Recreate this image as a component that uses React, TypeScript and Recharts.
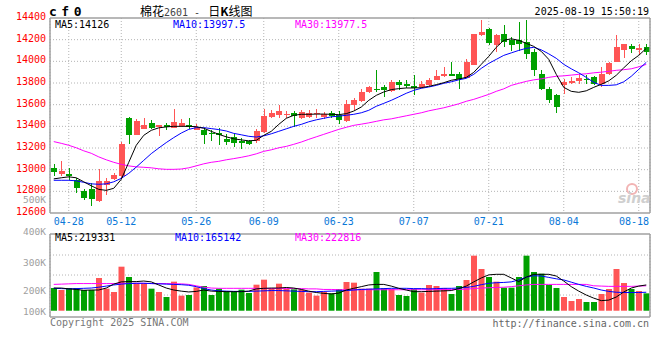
import React from 'react'
import { ComposedChart, Bar, Line, XAxis, YAxis, CartesianGrid, Cell } from 'recharts'

// trading days shown on the chart
const DATES = [
  '04-24', '04-25', '04-28', '04-29', '04-30', '05-06', '05-07', '05-08', '05-09', '05-12',
  '05-13', '05-14', '05-15', '05-16', '05-19', '05-20', '05-21', '05-22', '05-23', '05-26',
  '05-27', '05-28', '05-29', '05-30', '06-03', '06-04', '06-05', '06-06', '06-09', '06-10',
  '06-11', '06-12', '06-13', '06-16', '06-17', '06-18', '06-19', '06-20', '06-23', '06-24',
  '06-25', '06-26', '06-27', '06-30', '07-01', '07-02', '07-03', '07-04', '07-07', '07-08',
  '07-09', '07-10', '07-11', '07-14', '07-15', '07-16', '07-17', '07-18', '07-21', '07-22',
  '07-23', '07-24', '07-25', '07-28', '07-29', '07-30', '07-31', '08-01', '08-04', '08-05',
  '08-06', '08-07', '08-08', '08-11', '08-12', '08-13', '08-14', '08-15', '08-18', '08-19',
]

const OPEN = [
  13019, 12960, 12960, 12901, 12800, 12825, 12708, 12862, 12914, 12940,
  13474, 13320, 13379, 13434, 13397, 13412, 13388, 13403, 13409, 13370,
  13370, 13338, 13338, 13283, 13301, 13262, 13262, 13262, 13347, 13486,
  13502, 13511, 13523, 13477, 13486, 13511, 13486, 13523, 13508, 13449,
  13594, 13634, 13717, 13748, 13763, 13726, 13809, 13788, 13772, 13763,
  13778, 13831, 13862, 13886, 13886, 13850, 13970, 14240, 14295, 14148,
  14249, 14194, 14200, 14175, 14083, 13880, 13748, 13686, 13778, 13803,
  13815, 13840, 13855, 13794, 13880, 13994, 14101, 14141, 14108, 14132,
]
const HIGH = [
  13049, 13077, 13019, 12926, 12821, 12877, 13010, 12926, 12966, 13255,
  13483, 13467, 13474, 13455, 13416, 13430, 13563, 13471, 13474, 13425,
  13382, 13370, 13384, 13326, 13333, 13296, 13277, 13379, 13557, 13554,
  13594, 13541, 13541, 13548, 13554, 13563, 13529, 13541, 13541, 13646,
  13665, 13741, 13772, 13917, 13778, 13825, 13825, 13825, 13871, 13815,
  13846, 13923, 13948, 13994, 13901, 14025, 14255, 14378, 14310, 14255,
  14332, 14224, 14360, 14378, 14117, 13917, 13763, 13695, 13840, 13855,
  13880, 13871, 13862, 13948, 13994, 14240, 14163, 14157, 14157, 14163,
]
const LOW = [
  12939, 12938, 12908, 12784, 12723, 12664, 12699, 12770, 12902, 12917,
  13237, 13317, 13379, 13379, 13310, 13370, 13382, 13395, 13375, 13363,
  13240, 13264, 13225, 13231, 13212, 13194, 13225, 13250, 13335, 13480,
  13480, 13480, 13394, 13470, 13480, 13480, 13468, 13477, 13425, 13440,
  13548, 13625, 13710, 13717, 13670, 13720, 13732, 13754, 13686, 13755,
  13770, 13825, 13855, 13862, 13748, 13845, 13965, 14230, 14147, 14086,
  14132, 14092, 14092, 14025, 13864, 13732, 13615, 13523, 13695, 13788,
  13794, 13794, 13785, 13763, 13870, 13990, 14030, 14080, 14055, 14055,
]
const CLOSE = [
  12978, 12985, 12938, 12830, 12738, 12726, 12892, 12892, 12951, 13234,
  13320, 13446, 13412, 13388, 13409, 13394, 13437, 13428, 13397, 13397,
  13323, 13326, 13320, 13255, 13246, 13250, 13240, 13354, 13492, 13523,
  13538, 13517, 13499, 13529, 13526, 13523, 13517, 13492, 13462, 13603,
  13640, 13717, 13763, 13732, 13732, 13809, 13785, 13772, 13757, 13794,
  13825, 13862, 13886, 13868, 13840, 13994, 14249, 14270, 14169, 14240,
  14178, 14148, 14157, 14071, 13917, 13746, 13640, 13578, 13809, 13818,
  13849, 13825, 13794, 13880, 13984, 14132, 14157, 14111, 14126, 14086,
]

// moving averages as drawn on the price panel
const MA5 = [
  12915, 12925, 12934, 12925, 12888, 12851, 12818, 12809, 12828, 12911,
  13068, 13225, 13317, 13363, 13386, 13395, 13400, 13400, 13400, 13397,
  13382, 13354, 13326, 13303, 13285, 13275, 13266, 13271, 13317, 13354,
  13418, 13474, 13502, 13511, 13511, 13513, 13513, 13511, 13508, 13517,
  13541, 13578, 13640, 13686, 13717, 13739, 13748, 13754, 13754, 13757,
  13769, 13785, 13803, 13825, 13837, 13852, 13898, 13972, 14046, 14129,
  14194, 14208, 14194, 14166, 14138, 14092, 14018, 13880, 13760, 13723,
  13714, 13728, 13760, 13788, 13820, 13871, 13940, 14005, 14055, 14120,
]
const MA10 = [
  12902, 12902, 12902, 12897, 12883, 12869, 12865, 12869, 12888, 12920,
  12966, 13024, 13086, 13148, 13200, 13250, 13296, 13338, 13372, 13388,
  13388, 13379, 13370, 13357, 13335, 13322, 13308, 13301, 13312, 13331,
  13354, 13377, 13400, 13418, 13442, 13460, 13474, 13488, 13494, 13502,
  13511, 13525, 13548, 13585, 13612, 13640, 13672, 13705, 13732, 13751,
  13763, 13778, 13797, 13811, 13829, 13843, 13880, 13935, 13981, 14018,
  14055, 14078, 14101, 14120, 14129, 14106, 14069, 14028, 13972, 13931,
  13894, 13852, 13806, 13778, 13778, 13783, 13811, 13862, 13926, 13991,
]
const MA30 = [
  13259, 13243, 13225, 13202, 13174, 13151, 13118, 13091, 13068, 13049,
  13035, 13026, 13022, 13017, 13008, 13003, 13003, 13006, 13017, 13035,
  13054, 13068, 13077, 13091, 13102, 13114, 13128, 13146, 13169, 13183,
  13202, 13215, 13234, 13255, 13280, 13303, 13326, 13349, 13372, 13391,
  13409, 13420, 13432, 13446, 13460, 13469, 13483, 13497, 13511, 13525,
  13543, 13557, 13571, 13589, 13608, 13631, 13649, 13672, 13695, 13723,
  13746, 13778, 13797, 13815, 13829, 13838, 13852, 13862, 13866, 13873,
  13880, 13885, 13894, 13900, 13908, 13917, 13923, 13931, 13949, 13972,
]

const VOLUME = [
  207100, 200000, 207100, 207100, 200000, 200000, 242900, 204800, 192900, 283300,
  246400, 223800, 223800, 204800, 192900, 175000, 229800, 179800, 182100, 209500,
  214300, 182100, 204800, 196400, 194000, 201200, 189300, 219000, 236900, 204800,
  222600, 204800, 202400, 201200, 190500, 179800, 192900, 188100, 203600, 228600,
  226200, 204800, 204800, 264300, 205900, 203600, 182100, 178600, 203600, 190500,
  217900, 214300, 207100, 185700, 214300, 235700, 322600, 275000, 246400, 229800,
  208300, 208300, 246400, 322600, 264300, 258300, 217900, 207100, 175000, 160700,
  167900, 157100, 157100, 185700, 203600, 275000, 225000, 203600, 196400, 188100,
]
const VMA5 = [
  207000, 207000, 204000, 202000, 199000, 200000, 200000, 207000, 221000, 229000,
  230000, 230000, 232000, 229000, 218000, 207000, 200000, 196000, 193000, 195000,
  200000, 196000, 195000, 194000, 194000, 194000, 196000, 204000, 206000, 207000,
  207000, 209000, 207000, 202000, 196000, 191000, 188000, 186000, 189000, 200000,
  206000, 212000, 218000, 220000, 220000, 214000, 206000, 200000, 194000, 194000,
  195000, 196000, 197000, 198000, 205000, 214000, 229000, 243000, 254000, 256000,
  256000, 243000, 230000, 246000, 256000, 256000, 256000, 250000, 232000, 212000,
  196000, 182000, 171000, 162000, 164000, 175000, 193000, 207000, 214000, 218000,
]
const VMA10 = [
  206000, 205000, 204000, 205000, 206000, 207000, 210000, 214000, 218000, 221000,
  223000, 224000, 224000, 223000, 222000, 221000, 220000, 219000, 217000, 212000,
  205000, 200000, 197000, 196000, 195000, 195000, 195000, 196000, 197000, 198000,
  198000, 197000, 196000, 195000, 194000, 194000, 195000, 196000, 197000, 198000,
  200000, 202000, 203000, 204000, 205000, 206000, 206000, 206000, 205000, 205000,
  204000, 205000, 206000, 206000, 207000, 209000, 213000, 219000, 224000, 226000,
  227000, 229000, 236000, 246000, 251000, 250000, 245000, 240000, 236000, 228000,
  220000, 213000, 207000, 200000, 195000, 192000, 191000, 191000, 191000, 192000,
]
const VMA30 = [
  220000, 221000, 222000, 223000, 223000, 223000, 223000, 223000, 223000, 224000,
  224000, 224000, 224000, 223000, 223000, 223000, 222000, 222000, 220000, 215000,
  210000, 207000, 206000, 206000, 206000, 206000, 206000, 206000, 205000, 205000,
  205000, 205000, 205000, 205000, 204000, 204000, 202000, 202000, 201000, 201000,
  201000, 201000, 201000, 201000, 201000, 201000, 201000, 201000, 201000, 201000,
  201000, 201000, 202000, 202000, 202000, 203000, 205000, 207000, 208000, 209000,
  210000, 212000, 215000, 218000, 220000, 220000, 220000, 220000, 220000, 220000,
  220000, 220000, 215000, 214000, 213000, 213000, 213000, 213000, 214000, 215000,
]

const TICK_DATES = ['04-28', '05-12', '05-26', '06-09', '06-23', '07-07', '07-21', '08-04', '08-18']
const PRICE_TICKS = [12600, 12800, 13000, 13200, 13400, 13600, 13800, 14000, 14200, 14400]
const PRICE_GRID = [12800, 13000, 13200, 13400, 13600, 13800, 14000, 14200]
const VOL_TICKS = [100000, 200000, 300000, 400000, 500000]
const VOL_GRID = [182000, 253500, 325000]
const VOL_BASE = 126000

const RED = '#ff5555'
const GREEN = '#00a000'
const FRAME = '#a0a0a0'
const GRID = '#b4b4b4'
const MONO = '"DejaVu Sans Mono", "Liberation Mono", monospace'
const CJK = '"Noto Sans CJK SC", sans-serif'

const rows = DATES.map((date, i) => ({
  date,
  open: OPEN[i],
  high: HIGH[i],
  low: LOW[i],
  close: CLOSE[i],
  ma5: MA5[i],
  ma10: MA10[i],
  ma30: MA30[i],
  vol: VOLUME[i],
  vma5: VMA5[i],
  vma10: VMA10[i],
  vma30: VMA30[i],
}))

// eslint-disable-next-line @typescript-eslint/no-explicit-any
function Candle(props: any) {
  const { x, y, width, height, payload } = props
  if (!payload) return null
  const { open, close, high, low } = payload
  const color = close >= open ? RED : GREEN
  const top0 = Math.min(y, y + height)
  const h = Math.abs(height)
  const toY = (v: number) => top0 + ((high - v) / (high - low)) * h
  const bTop = toY(Math.max(open, close))
  const bBot = toY(Math.min(open, close))
  const mid = Math.floor(x + width / 2) + 0.5
  return (
    <g shapeRendering="crispEdges">
      <line x1={mid} x2={mid} y1={top0} y2={top0 + h} stroke={color} strokeWidth={1} />
      <rect x={x} y={bTop} width={width} height={Math.max(1, bBot - bTop)} fill={color} />
    </g>
  )
}

// eslint-disable-next-line @typescript-eslint/no-explicit-any
function PriceTick({ x, y, payload }: any) {
  return (
    <text x={x - 4} y={y - 1.5} textAnchor="end" dominantBaseline="central" fill="#ff0000" fontSize={10} fontFamily={MONO}>
      {payload.value}
    </text>
  )
}

// eslint-disable-next-line @typescript-eslint/no-explicit-any
function VolTick({ x, y, payload }: any) {
  // the lowest label sits just inside the frame, the upper ones ride a little high
  const ty = Math.min(y, 121) + (y < 60 ? (y - 60) / 7 : 0)
  return (
    <text x={x - 4} y={ty} textAnchor="end" dominantBaseline="central" fill="#a0a0a0" fontSize={9.5} fontFamily={MONO}>
      {payload.value / 1000}K
    </text>
  )
}

// eslint-disable-next-line @typescript-eslint/no-explicit-any
function DateTick({ x, y, payload }: any) {
  return (
    <text x={Math.min(x, 634)} y={y + 8} textAnchor="middle" dominantBaseline="central" fill="#0a78d8" fontSize={10} fontFamily={MONO}>
      {payload.value}
    </text>
  )
}

function Txt({ left, right, top, color = '#000', size = 10, style, children }: {
  left?: number; right?: number; top: number; color?: string; size?: number; style?: React.CSSProperties; children: React.ReactNode
}) {
  return (
    <div style={{ position: 'absolute', left, right, top, color, fontFamily: MONO, fontSize: size, lineHeight: '12px', whiteSpace: 'nowrap', ...style }}>
      {children}
    </div>
  )
}

export default function App() {
  return (
    <div style={{ position: 'absolute', left: 0, top: 0, width: 660, height: 360, background: '#fff', overflow: 'hidden' }}>
      <div style={{ position: 'absolute', left: 0, top: 0 }}>
        <ComposedChart width={660} height={232} data={rows} margin={{ top: 17, right: 0, left: 0, bottom: 0 }} barCategoryGap={0}>
          <CartesianGrid stroke={GRID} strokeDasharray="1 2" horizontalValues={PRICE_GRID} />
          <XAxis xAxisId="top" orientation="top" dataKey="date" height={1} tick={false} tickLine={false} axisLine={{ stroke: FRAME, strokeWidth: 1.5 }} />
          <XAxis dataKey="date" ticks={TICK_DATES} interval={0} height={19} tickSize={0} tickMargin={0} tickLine={false} axisLine={{ stroke: FRAME, strokeWidth: 1.5 }} tick={<DateTick />} />
          <YAxis type="number" domain={[12600, 14400]} allowDataOverflow ticks={PRICE_TICKS} interval={0} width={50} tickSize={0} tickMargin={0} tickLine={false} axisLine={{ stroke: FRAME, strokeWidth: 1.5 }} tick={<PriceTick />} />
          <YAxis yAxisId="right" orientation="right" type="number" domain={[0, 1]} width={10} tick={false} tickLine={false} axisLine={{ stroke: FRAME, strokeWidth: 1.5 }} />
          <Bar dataKey={(d: { low: number; high: number }) => [d.low, d.high]} barSize={6} shape={<Candle />} isAnimationActive={false} />
          <Line dataKey="ma30" stroke="#ff00ff" strokeWidth={1} dot={false} isAnimationActive={false} />
          <Line dataKey="ma10" stroke="#0000ff" strokeWidth={1} dot={false} isAnimationActive={false} />
          <Line dataKey="ma5" stroke="#000000" strokeWidth={1} dot={false} isAnimationActive={false} />
        </ComposedChart>
      </div>

      <div style={{ position: 'absolute', left: 0, top: 190 }}>
        <ComposedChart width={660} height={140} data={rows} margin={{ top: 43, right: 0, left: 0, bottom: 0 }} barCategoryGap={0}>
          <CartesianGrid stroke={GRID} strokeDasharray="1 2" horizontalValues={VOL_GRID} />
          <XAxis xAxisId="top" orientation="top" dataKey="date" height={1} tick={false} tickLine={false} axisLine={{ stroke: FRAME, strokeWidth: 1.5 }} />
          <XAxis dataKey="date" ticks={TICK_DATES} interval={0} height={13} tick={false} tickLine={false} axisLine={{ stroke: FRAME, strokeWidth: 1.5 }} />
          <YAxis type="number" domain={[103600, 400000]} allowDataOverflow ticks={VOL_TICKS} interval={0} width={50} tickSize={0} tickMargin={0} tickLine={false} axisLine={{ stroke: FRAME, strokeWidth: 1.5 }} tick={<VolTick />} />
          <YAxis yAxisId="right" orientation="right" type="number" domain={[0, 1]} width={10} tick={false} tickLine={false} axisLine={{ stroke: FRAME, strokeWidth: 1.5 }} />
          <Bar dataKey={(d: { vol: number }) => [VOL_BASE, d.vol]} barSize={6} isAnimationActive={false}>
            {rows.map((r, i) => (
              <Cell key={i} fill={r.close >= r.open ? RED : GREEN} />
            ))}
          </Bar>
          <Line dataKey="vma30" stroke="#ff00ff" strokeWidth={1} dot={false} isAnimationActive={false} />
          <Line dataKey="vma10" stroke="#0000ff" strokeWidth={1} dot={false} isAnimationActive={false} />
          <Line dataKey="vma5" stroke="#000000" strokeWidth={1} dot={false} isAnimationActive={false} />
        </ComposedChart>
      </div>

      {/* header */}
      <Txt left={49} top={5} size={13} style={{ fontWeight: 'bold', letterSpacing: 4.5, lineHeight: '13px' }}>cf0</Txt>
      <div style={{ position: 'absolute', left: 140, top: 4, whiteSpace: 'nowrap', lineHeight: '14px', color: '#000' }}>
        <span style={{ fontFamily: CJK, fontSize: 12 }}>棉花</span>
        <span style={{ fontFamily: MONO, fontSize: 10, color: '#444', whiteSpace: 'pre' }}>2601 - </span>
        <span style={{ fontFamily: CJK, fontSize: 12, marginLeft: 2 }}>日</span>
        <span style={{ fontFamily: CJK, fontSize: 12, fontWeight: 'bold' }}>K</span>
        <span style={{ fontFamily: CJK, fontSize: 12 }}>线图</span>
      </div>
      <Txt right={11} top={6}>2025-08-19 15:50:19</Txt>

      {/* price panel legend */}
      <Txt left={55} top={18.5}>MA5:14126</Txt>
      <Txt left={173} top={18.5} color="#0000ff">MA10:13997.5</Txt>
      <Txt left={295} top={18.5} color="#ff00ff">MA30:13977.5</Txt>

      {/* volume panel legend */}
      <Txt left={55} top={232}>MA5:219331</Txt>
      <Txt left={175} top={232} color="#0000ff">MA10:165142</Txt>
      <Txt left={295} top={232} color="#ff00ff">MA30:222816</Txt>

      {/* watermark */}
      <div style={{ position: 'absolute', left: 626, top: 183, width: 8, height: 8, borderRadius: '50%', border: '2px solid #f2b4b4' }} />
      <div style={{ position: 'absolute', left: 618, top: 191, fontFamily: '"DejaVu Sans", sans-serif', fontSize: 14, fontStyle: 'italic', fontWeight: 'bold', color: '#cfcfcf', lineHeight: '14px' }}>sina</div>

      {/* footer */}
      <Txt left={50} top={317} color="#777">Copyright 2025 SINA.COM</Txt>
      <Txt right={11} top={318} color="#666">http://finance.sina.com.cn</Txt>
    </div>
  )
}
